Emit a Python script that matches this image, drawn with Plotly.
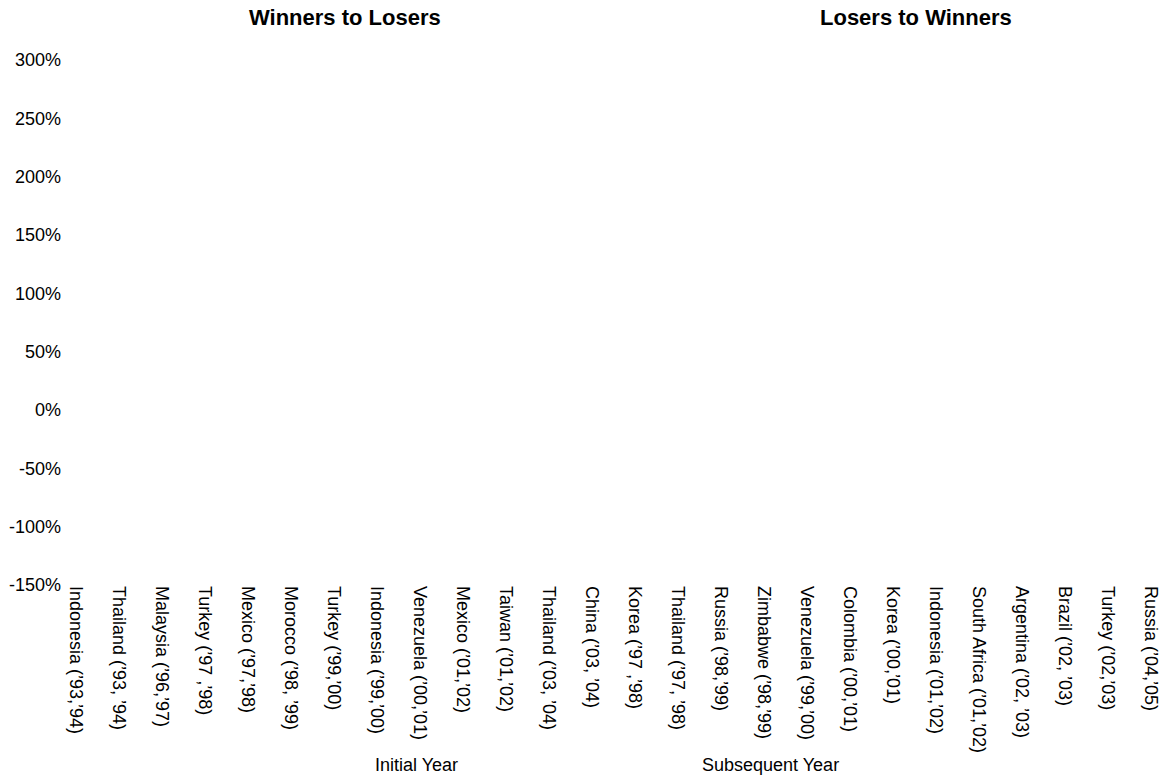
import plotly.graph_objects as go

# Categories (country, initial/subsequent years)
winners_to_losers = [
    "Indonesia (’93,’94)", "Thailand (’93, ’94)", "Malaysia (’96,’97)",
    "Turkey (’97 ,’98)", "Mexico (’97,’98)", "Morocco (’98, ’99)",
    "Turkey (’99,’00)", "Indonesia (’99,’00)", "Venezuela (’00,’01)",
    "Mexico (’01,’02)", "Taiwan (’01,’02)", "Thailand (’03, ’04)",
    "China (’03, ’04)",
]
losers_to_winners = [
    "Korea (’97 ,’98)", "Thailand (’97, ’98)", "Russia (’98,’99)",
    "Zimbabwe (’98,’99)", "Venezuela (’99,’00)", "Colombia (’00,’01)",
    "Korea (’00,’01)", "Indonesia (’01,’02)", "South Africa (’01,’02)",
    "Argentina (’02, ’03)", "Brazil (’02, ’03)", "Turkey (’02,’03)",
    "Russia (’04,’05)",
]
# no bars are drawn in the reference - values missing
wl_values = [None, None, None, None, None, None, None, None, None, None, None, None, None]
lw_values = [None, None, None, None, None, None, None, None, None, None, None, None, None]

y_ticks = [-150, -100, -50, 0, 50, 100, 150, 200, 250, 300]
y_labels = ["-150%", "-100%", "-50%", "0%", "50%", "100%", "150%", "200%", "250%", "300%"]

FONT = "Liberation Sans, Arial, sans-serif"

fig = go.Figure()
fig.add_trace(go.Bar(x=winners_to_losers, y=wl_values, name="Winners to Losers",
                     marker_color="black", showlegend=False))
fig.add_trace(go.Bar(x=losers_to_winners, y=lw_values, name="Losers to Winners",
                     marker_color="black", showlegend=False))

all_cats = winners_to_losers + losers_to_winners
fig.update_xaxes(type="category", categoryorder="array", categoryarray=all_cats,
                 tickvals=all_cats, ticktext=all_cats,
                 range=[-0.326, 25.256], tickangle=90, automargin=False,
                 showgrid=False, zeroline=False, showline=False, ticks="",
                 tickfont=dict(family=FONT, size=18, color="black"))
fig.update_yaxes(range=[-150, 300], tickvals=y_ticks, ticktext=y_labels,
                 automargin=False,
                 showgrid=False, zeroline=False, showline=False, ticks="",
                 tickfont=dict(family=FONT, size=18, color="black"))

ann = dict(xref="paper", yref="paper", showarrow=False, xanchor="center", yanchor="middle")
fig.add_annotation(text="<b>Winners to Losers</b>", x=0.2573, y=1.08,
                   font=dict(family=FONT, size=22, color="black"), **ann)
fig.add_annotation(text="<b>Losers to Winners</b>", x=0.7768, y=1.08,
                   font=dict(family=FONT, size=22, color="black"), **ann)
fig.add_annotation(text="Initial Year", x=0.3227, y=-0.3429,
                   font=dict(family=FONT, size=18, color="black"), **ann)
fig.add_annotation(text="Subsequent Year", x=0.6445, y=-0.3429,
                   font=dict(family=FONT, size=18, color="black"), **ann)

fig.update_layout(width=1167, height=780,
                  margin=dict(l=62, r=5, t=60, b=195),
                  plot_bgcolor="white", paper_bgcolor="white",
                  font=dict(family=FONT, color="black"))

# drop the default 8px page margin so the figure sits at the window corner
fig.write_html("out.html", config={"displayModeBar": False},
               post_script="document.body.style.margin='0';")
